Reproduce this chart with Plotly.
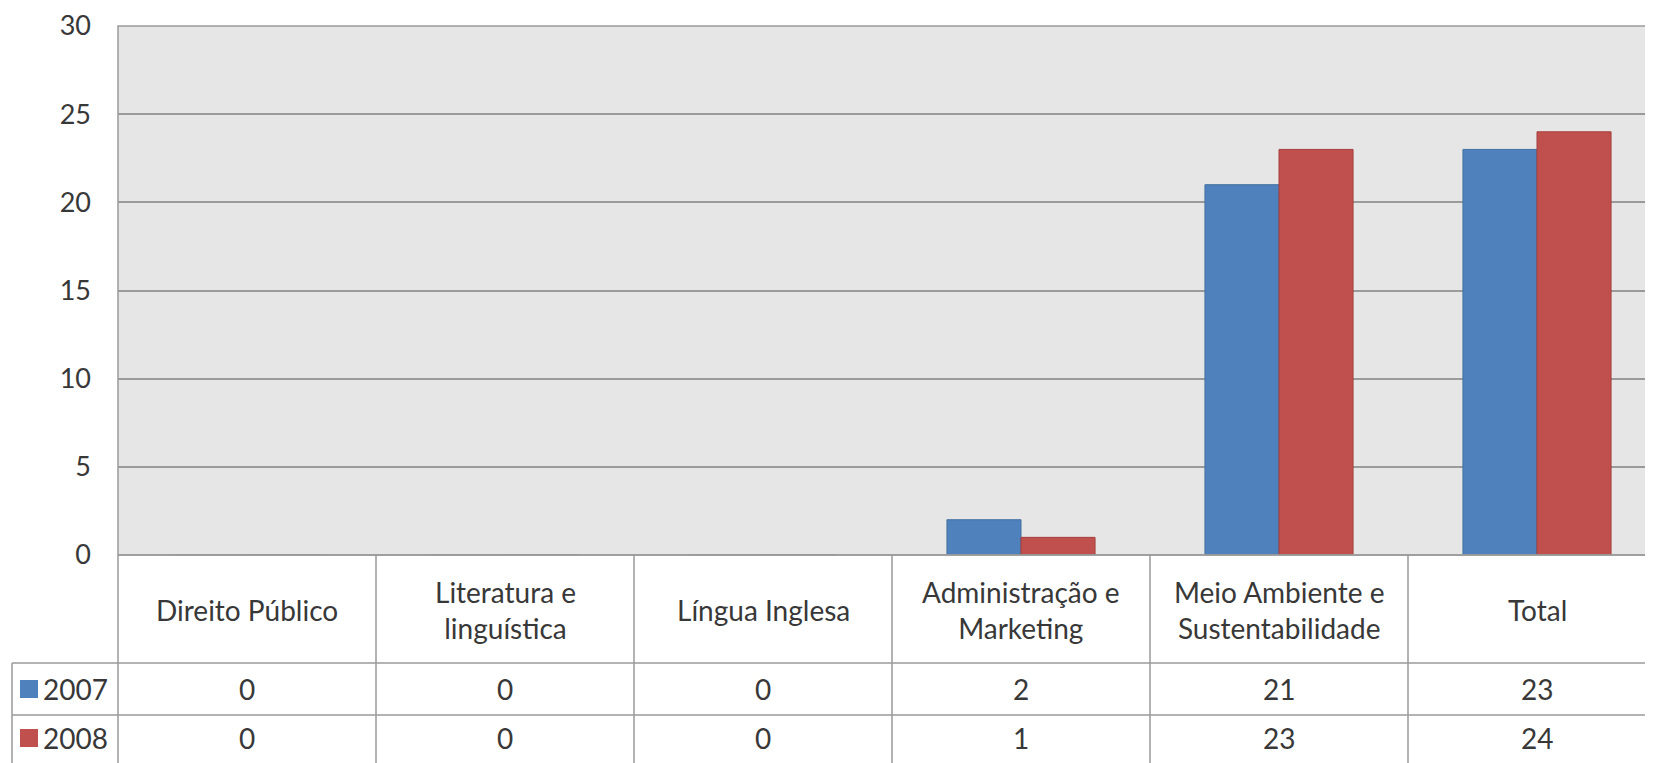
import plotly.graph_objects as go

categories = ["Direito Público", "Literatura e<br>linguística", "Língua Inglesa",
              "Administração e<br>Marketing", "Meio Ambiente e<br>Sustentabilidade", "Total"]
series_names = ["2007", "2008"]
values_2007 = [0, 0, 0, 2, 21, 23]
values_2008 = [0, 0, 0, 1, 23, 24]
colors = ["#4F81BD", "#C0504D"]
line_colors = ["#41709f", "#a43f3c"]
y_ticks = [0, 5, 10, 15, 20, 25, 30]

OFF = 8  # default page body margin
W, H = 1653 - OFF, 763 - OFF
# page-pixel positions
L, R_PX, T, B = 118, 1653, 26, 555
FONT = "Lato"
FS = 27
FS_TXT = 28
TXT = "#383838"
GRID = "#9a9a9a"


def py(p):  # page pixel y -> paper y
    return (B - p) / (B - T)


def px(p):  # page pixel x -> paper x
    return (p - L) / (R_PX - L)


x_idx = list(range(len(categories)))
fig = go.Figure()
for name, vals, c, lc in zip(series_names, [values_2007, values_2008], colors, line_colors):
    fig.add_trace(go.Bar(x=x_idx, y=vals, name=name, marker=dict(color=c, line=dict(color=lc, width=1))))

shapes = []
annotations = []
shapes.append(dict(type="rect", xref="paper", yref="paper", x0=0, x1=1, y0=0, y1=1,
                   line=dict(color=GRID, width=1.5), layer="above"))
shapes.append(dict(type="line", xref="paper", yref="paper", x0=0, x1=1, y0=py(B), y1=py(B),
                   line=dict(color=GRID, width=1.5)))
for yy in [663, 715]:
    shapes.append(dict(type="line", xref="paper", yref="paper", x0=px(12), x1=1, y0=py(yy), y1=py(yy),
                       line=dict(color=GRID, width=1.5)))
shapes.append(dict(type="line", xref="paper", yref="paper", x0=px(12), x1=px(12), y0=py(663), y1=py(770),
                   line=dict(color=GRID, width=1.5)))
shapes.append(dict(type="line", xref="paper", yref="paper", x0=0, x1=0, y0=py(B), y1=py(770),
                   line=dict(color=GRID, width=1.5)))
for i in range(len(categories) - 1):
    shapes.append(dict(type="line", xref="x", yref="paper", x0=i + 0.5, x1=i + 0.5, y0=py(B), y1=py(770),
                       line=dict(color=GRID, width=1.5)))

for i, cat in enumerate(categories):
    annotations.append(dict(x=i, y=py(610), xref="x", yref="paper", text=cat, showarrow=False,
                            font=dict(family=FONT, size=FS_TXT, color=TXT), xanchor="center", yanchor="middle"))
row_centers = [689, 738]
for r, (name, vals, c) in enumerate(zip(series_names, [values_2007, values_2008], colors)):
    yc = row_centers[r]
    shapes.append(dict(type="rect", xref="paper", yref="paper", x0=px(20), x1=px(38),
                       y0=py(yc - 9), y1=py(yc + 9), fillcolor=c, line=dict(width=0)))
    annotations.append(dict(x=px(41), y=py(yc), xref="paper", yref="paper", text=name, showarrow=False,
                            font=dict(family=FONT, size=FS_TXT, color=TXT), xanchor="left", yanchor="middle"))
    for i, v in enumerate(vals):
        annotations.append(dict(x=i, y=py(yc), xref="x", yref="paper", text=str(v), showarrow=False,
                                font=dict(family=FONT, size=FS_TXT, color=TXT), xanchor="center", yanchor="middle"))

fig.update_layout(
    width=W, height=H,
    margin=dict(l=L - OFF, r=0, t=T - OFF, b=H - (B - OFF), pad=0),
    paper_bgcolor="white", plot_bgcolor="#e6e6e6",
    barmode="group", bargap=0.426, bargroupgap=0,
    showlegend=False,
    font=dict(family=FONT, size=FS, color=TXT),
    shapes=shapes, annotations=annotations,
    xaxis=dict(range=[-0.5, -0.5 + (R_PX - L) / 258.0], showticklabels=False, showgrid=False,
               zeroline=False, ticks="", fixedrange=True),
    yaxis=dict(range=[0, 30], tickvals=y_ticks, showgrid=True, gridcolor=GRID, gridwidth=1.5,
               zeroline=False, ticks="", ticklabelstandoff=26, automargin=False,
               tickfont=dict(family=FONT, size=FS, color=TXT)),
)
fig.write_html("out.html")
